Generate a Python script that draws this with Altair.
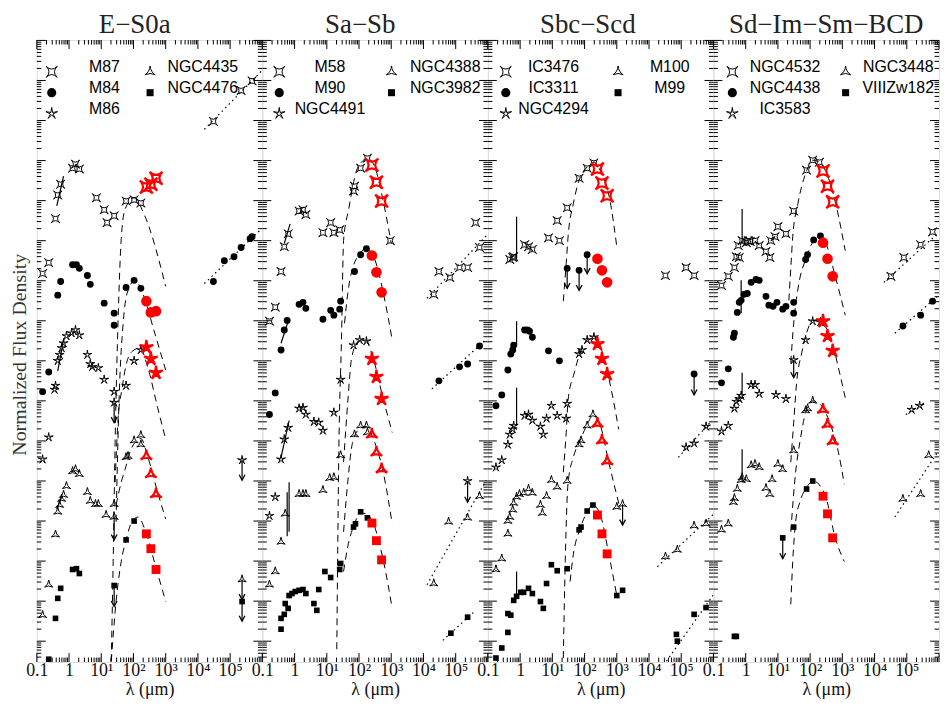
import math
import altair as alt
import pandas as pd

# ---------------------------------------------------------------------------
# Data: (log10 wavelength [um], log10 normalized flux)
# ---------------------------------------------------------------------------
SPIRE_LOGLAM = [2.40, 2.54, 2.70]

# ---- E-S0a ----
M87_sed = [(-0.82, 9.18), (-0.63, 9.45), (-0.42, 10.55), (-0.35, 11.14), (-0.26, 11.41), (0.11, 11.81),
           (0.20, 11.91), (0.32, 11.79), (0.85, 11.07), (1.09, 10.77), (1.18, 10.45), (1.40, 10.62),
           (1.77, 10.99), (2.02, 11.02), (2.23, 10.94), (4.48, 12.98), (5.34, 13.75), (5.68, 13.99)]
M87_spire = [11.34, 11.41, 11.56]
M87_fit = [(1.31, -0.50), (1.37, 1.99), (1.43, 4.96), (1.52, 7.94), (1.62, 10.05), (1.74, 10.79),
           (2.02, 11.07), (2.35, 10.62), (3.00, 8.86)]
M87_radio = [(4.20, 12.78), (5.98, 14.24)]
M87_spec = [(-0.38, 10.87, -0.17, 11.61)]

M84_sed = [(-0.82, 6.23), (-0.63, 6.72), (-0.35, 8.64), (-0.26, 8.98), (0.11, 9.40), (0.23, 9.40),
           (0.32, 9.31), (0.57, 9.13), (0.66, 8.91), (1.09, 8.44), (1.40, 8.19), (1.40, 7.89),
           (1.77, 8.83), (2.02, 9.01), (2.23, 8.81), (4.48, 8.98), (4.82, 9.50), (5.12, 9.60),
           (5.34, 9.83), (5.62, 10.05), (5.68, 10.10)]
M84_spire = [8.49, 8.21, 8.24]
M84_fit = [(1.46, 2.98), (1.55, 5.96), (1.68, 7.94), (1.80, 8.68), (2.05, 9.01), (2.29, 8.68),
           (2.66, 7.69), (3.00, 6.77)]
M84_radio = [(4.20, 8.93), (5.98, 10.30)]

M86_sed = [(-0.42, 6.38), (-0.45, 6.28), (-0.63, 5.09), (-0.82, 4.54), (-0.35, 7.00), (-0.29, 7.15),
           (-0.23, 7.32), (-0.17, 7.44), (-0.08, 7.62), (0.08, 7.69), (0.20, 7.77), (0.32, 7.64),
           (0.57, 7.15), (0.66, 6.92), (0.72, 6.85), (0.91, 6.82), (1.09, 6.53), (1.40, 6.23),
           (1.77, 6.38), (2.02, 7.00), (2.23, 7.27)]
M86_spire = [7.34, 7.05, 6.70]
M86_ul = [(1.40, 5.96, 5.46), (5.37, 4.52, 4.02)]
M86_fit = [(1.43, 3.97), (1.52, 5.53), (1.65, 6.33), (1.77, 6.90), (1.98, 7.25), (2.20, 7.32),
           (2.45, 6.82), (2.75, 5.83), (3.00, 5.04)]
M86_spec = [(-0.35, 6.75, -0.17, 7.52)]

NGC4435_sed = [(2.02, 5.01), (2.23, 5.14), (2.23, 4.91), (1.83, 4.62), (1.77, 4.59), (0.20, 4.29),
               (0.11, 4.24), (0.32, 4.17), (-0.08, 3.87), (-0.17, 3.65), (-0.23, 3.55), (-0.29, 3.40),
               (-0.35, 3.23), (-0.42, 2.66), (-0.63, 1.41), (-0.82, 0.65), (0.57, 3.72), (0.66, 3.50),
               (0.82, 3.42), (0.91, 3.42), (1.15, 3.15), (1.40, 3.42)]
NGC4435_spire = [4.62, 4.17, 3.67]
NGC4435_ul = [(1.40, 3.10, 2.53), (5.37, 1.54, 1.04)]
NGC4435_fit = [(1.46, 3.40), (1.62, 3.97), (1.74, 4.29), (1.92, 4.79), (2.23, 5.06), (2.45, 4.59),
               (2.75, 3.72), (3.00, 3.05)]
NGC4435_spec = [(-0.38, 3.30, -0.23, 3.60)]

NGC4476_sed = [(-0.63, -0.45), (-0.42, 0.57), (-0.35, 1.07), (-0.26, 1.32), (0.11, 1.79), (0.23, 1.81),
               (0.32, 1.69), (1.77, 2.53), (2.02, 3.00)]
NGC4476_spire = [2.68, 2.31, 1.79]
NGC4476_ul = [(1.40, 1.39, 0.87), (5.37, 0.99, 0.50)]
NGC4476_fit = [(1.31, -0.50), (1.46, 0.99), (1.62, 1.99), (1.77, 2.53), (1.95, 2.98), (2.14, 3.10),
               (2.38, 2.73), (2.69, 1.86), (3.00, 0.99)]

# ---- Sa-Sb ----
M58_sed = [(2.26, 12.06), (2.05, 11.81), (1.86, 11.36), (1.83, 11.24), (0.26, 10.77), (0.14, 10.74),
           (0.35, 10.65), (1.12, 10.45), (0.88, 10.20), (1.22, 10.20), (1.40, 10.27), (2.97, 10.00),
           (-0.20, 10.17), (-0.42, 9.23), (-0.60, 8.34), (-0.78, 7.99), (-0.32, 9.85), (5.62, 10.45),
           (4.48, 9.23), (4.32, 8.66), (4.82, 9.08), (5.12, 9.33), (5.37, 9.33), (5.74, 9.83)]
M58_spire = [11.89, 11.46, 10.99]
M58_fit = [(1.31, -0.20), (1.37, 4.54), (1.46, 7.69), (1.52, 10.00), (1.68, 10.79), (1.92, 11.74),
           (2.11, 11.99), (2.26, 12.06), (2.48, 11.86), (2.75, 10.99), (3.00, 9.93)]
M58_radio = [(4.11, 8.56), (5.95, 10.12)]
M58_spec = [(-0.32, 9.93, -0.14, 10.42)]

M90_sed = [(2.23, 9.80), (2.05, 9.65), (1.86, 9.23), (1.43, 8.49), (1.40, 8.29), (1.22, 8.14),
           (1.12, 8.26), (0.88, 8.04), (0.35, 8.31), (0.26, 8.46), (0.14, 8.41), (-0.23, 8.01),
           (-0.32, 7.77), (-0.42, 7.27), (-0.60, 6.20), (-0.78, 5.66), (4.48, 6.50), (5.12, 6.85),
           (5.37, 6.92), (5.74, 7.37)]
M90_spire = [9.63, 9.21, 8.71]
M90_fit = [(1.55, 7.94), (1.65, 8.68), (1.77, 9.23), (1.92, 9.55), (2.23, 9.80), (2.48, 9.55),
           (2.75, 8.71), (3.03, 7.52)]
M90_radio = [(4.26, 6.30), (5.95, 7.54)]
M90_spec = [(-0.42, 7.44, -0.17, 8.06)]

NGC4491_sed = [(2.23, 7.49), (2.02, 7.52), (1.83, 7.39), (1.43, 6.53), (1.22, 5.71), (0.88, 5.26),
               (0.75, 5.46), (0.60, 5.48), (0.35, 5.66), (0.26, 5.83), (0.14, 5.81), (-0.20, 5.33),
               (-0.32, 5.04), (-0.42, 4.54), (-0.60, 3.60), (-0.78, 3.13)]
NGC4491_spire = [7.05, 6.60, 6.05]
NGC4491_ul = [(5.37, 4.00, 3.47)]
NGC4491_fit = [(1.52, 4.47), (1.65, 5.96), (1.77, 7.07), (1.98, 7.49), (2.17, 7.54), (2.42, 7.12),
               (2.72, 6.15), (3.03, 5.21)]
NGC4491_spec = [(-0.42, 4.59, -0.17, 5.51)]

NGC4388_sed = [(2.23, 5.38), (2.05, 5.38), (1.86, 5.16), (2.26, 5.21), (1.43, 4.64), (1.22, 4.09),
               (1.09, 4.07), (0.88, 3.77), (0.35, 3.67), (0.26, 3.67), (0.14, 3.67), (-0.29, 3.18),
               (-0.42, 2.48), (-0.60, 1.74), (-0.78, 1.41), (4.78, 2.98), (5.37, 3.08), (5.74, 3.62),
               (4.32, 1.44)]
NGC4388_spire = [5.16, 4.71, 4.29]
NGC4388_fit = [(1.52, 2.73), (1.65, 3.97), (1.80, 4.96), (2.05, 5.33), (2.23, 5.36), (2.45, 5.04),
               (2.75, 4.22), (3.03, 2.93)]
NGC4388_radio = [(4.11, 1.41), (5.95, 4.02)]
NGC4388_spec = [(-0.17, 3.97, -0.17, 2.73), (-0.23, 3.72, -0.23, 2.62)]

NGC3982_sed = [(2.05, 3.23), (2.26, 3.08), (1.89, 2.93), (1.83, 2.85), (1.43, 1.94), (1.40, 1.79),
               (1.12, 1.59), (0.94, 1.74), (0.75, 1.29), (0.60, 0.94), (0.69, 0.77), (0.35, 1.19),
               (0.26, 1.29), (0.14, 1.27), (0.02, 1.24), (-0.08, 1.19), (-0.17, 1.14), (-0.20, 0.82),
               (-0.29, 0.94), (-0.32, 0.67), (-0.42, 0.57), (-0.42, 0.30), (4.85, 0.20), (5.37, 0.60)]
NGC3982_spire = [2.95, 2.51, 2.03]
NGC3982_fit = [(1.52, 1.74), (1.65, 2.36), (1.86, 2.93), (2.05, 3.20), (2.23, 3.18), (2.45, 2.93),
               (2.75, 2.03), (3.03, 0.82)]
NGC3982_radio = [(4.60, 0.02), (5.62, 0.77)]

# ---- Sbc-Scd ----
IC3476_sed = [(2.29, 11.94), (2.08, 11.81), (1.83, 11.56), (1.46, 10.82), (1.15, 10.50), (0.88, 10.07),
              (1.22, 10.00), (0.14, 9.90), (0.26, 9.85), (0.38, 9.78), (-0.20, 9.60), (-0.32, 9.53),
              (-0.23, 9.58), (4.51, 9.13), (5.15, 9.33), (5.40, 9.13)]
IC3476_spire = [11.79, 11.44, 11.12]
IC3476_fit = [(1.34, 8.49), (1.43, 9.43), (1.49, 10.12), (1.65, 10.92), (1.83, 11.51), (2.08, 11.84),
              (2.29, 11.96), (2.51, 11.71), (2.78, 11.04), (3.00, 9.85)]
IC3476_spec = [(-0.11, 10.60, -0.11, 9.55)]

IC3311_sed = [(0.23, 7.77), (0.14, 7.77), (0.29, 7.74), (0.38, 7.59), (0.88, 7.25), (1.22, 7.00),
              (-0.20, 7.39), (-0.23, 7.27), (-0.29, 7.17), (-0.38, 6.77), (-0.57, 6.15), (-0.75, 5.88)]
IC3311_spire = [9.55, 9.26, 8.96]
IC3311_ul = [(2.08, 9.65, 9.18), (1.83, 9.26, 8.76), (1.46, 9.31, 8.81), (5.40, 6.67, 6.15)]
IC3311_spec = [(-0.11, 7.99, -0.11, 7.37)]

NGC4294_sed = [(2.29, 7.59), (2.08, 7.52), (1.92, 7.27), (1.83, 7.17), (1.46, 5.93), (1.43, 5.56),
               (1.15, 5.63), (0.97, 5.88), (0.82, 5.56), (0.63, 5.36), (0.72, 5.16), (0.38, 5.51),
               (0.26, 5.66), (0.14, 5.63), (-0.20, 5.38), (-0.23, 5.29), (-0.32, 5.16), (-0.38, 4.91),
               (-0.57, 4.52), (-0.75, 4.34), (5.15, 4.84), (5.40, 4.94), (5.77, 5.36)]
NGC4294_spire = [7.42, 7.05, 6.67]
NGC4294_fit = [(1.34, 4.22), (1.43, 5.21), (1.49, 6.03), (1.68, 6.70), (1.86, 7.20), (2.08, 7.52),
               (2.29, 7.62), (2.51, 7.32), (2.75, 6.58), (3.06, 5.29)]
NGC4294_radio = [(4.91, 4.59), (5.95, 5.51)]
NGC4294_spec = [(-0.11, 6.33, -0.11, 5.38)]

M100_sed = [(2.26, 5.66), (2.08, 5.38), (1.89, 5.01), (1.83, 4.91), (1.46, 4.00), (1.15, 3.85),
            (0.97, 4.02), (0.82, 3.62), (0.69, 3.20), (0.63, 3.40), (0.38, 3.70), (0.26, 3.80),
            (0.11, 3.70), (-0.02, 3.67), (-0.11, 3.60), (-0.20, 3.45), (-0.23, 3.28), (-0.32, 3.10),
            (-0.38, 3.00), (-0.38, 2.68), (-0.57, 2.06), (-0.75, 1.79), (3.00, 3.35), (4.51, 2.11),
            (4.88, 2.28), (5.40, 2.88), (5.77, 2.93)]
M100_spire = [5.43, 5.01, 4.49]
M100_ul = [(3.18, 3.42, 2.90)]
M100_fit = [(1.34, -0.42), (1.40, 1.99), (1.49, 3.97), (1.65, 4.59), (1.86, 5.01), (2.08, 5.41),
            (2.26, 5.63), (2.51, 5.33), (2.75, 4.47), (3.09, 3.35)]
M100_radio = [(4.26, 1.86), (6.00, 3.17)]

M99_sed = [(2.26, 3.40), (2.08, 3.25), (1.89, 2.85), (1.83, 2.78), (3.00, 1.14), (3.18, 1.27),
           (1.46, 1.81), (1.15, 1.76), (0.97, 1.91), (0.82, 1.44), (0.63, 0.99), (0.72, 0.82),
           (0.38, 1.19), (0.26, 1.32), (0.11, 1.22), (0.02, 1.22), (-0.11, 1.12), (-0.20, 1.02),
           (-0.29, 0.65), (-0.38, 0.69), (-0.38, 0.22), (-0.57, -0.17), (-0.75, -0.42), (4.85, 0.17),
           (4.88, 0.00), (5.40, 0.67), (5.77, 0.84)]
M99_spire = [3.15, 2.68, 2.18]
M99_fit = [(1.55, 1.49), (1.65, 2.16), (1.86, 2.80), (2.08, 3.23), (2.26, 3.40), (2.51, 3.10),
           (2.75, 2.18), (3.00, 1.14)]
M99_radio = [(4.54, -0.50), (6.00, 1.16)]
M99_spec = [(-0.11, 1.74, -0.11, 1.17)]

# ---- Sd-Im-Sm-BCD ----
NGC4532_sed = [(2.08, 12.01), (2.29, 11.96), (1.89, 11.76), (1.49, 10.74), (1.00, 10.35), (0.91, 10.10),
               (1.25, 10.17), (0.78, 10.00), (0.29, 10.00), (0.08, 10.00), (-0.11, 10.00), (0.42, 9.88),
               (0.14, 9.98), (0.02, 9.95), (-0.23, 9.88), (-0.20, 9.58), (-0.29, 9.60), (-0.35, 9.33),
               (-0.54, 9.11), (-0.75, 8.88), (0.63, 9.73), (0.75, 9.58), (4.51, 9.11), (4.91, 9.58),
               (5.43, 9.90), (5.80, 10.22)]
NGC4532_spire = [11.74, 11.36, 10.97]
NGC4532_fit = [(1.34, 8.51), (1.40, 9.31), (1.46, 10.10), (1.62, 10.92), (1.89, 11.74), (2.08, 12.01),
               (2.29, 11.96), (2.48, 11.74), (2.78, 10.97), (3.09, 9.75)]
NGC4532_radio = [(4.29, 8.96), (5.95, 10.17)]
NGC4532_spec = [(-0.11, 10.79, -0.11, 9.93)]

NGC4438_sed = [(2.32, 10.12), (2.11, 10.02), (1.92, 9.65), (1.86, 9.53), (1.49, 8.46), (1.49, 8.19),
               (1.25, 8.36), (1.15, 8.29), (0.97, 8.46), (0.85, 8.36), (0.72, 8.39), (0.63, 8.61),
               (0.42, 9.01), (0.32, 9.03), (0.17, 8.96), (0.05, 8.68), (-0.05, 8.66), (-0.14, 8.51),
               (-0.20, 8.46), (-0.26, 8.21), (-0.35, 7.69), (-0.38, 7.59), (-0.54, 6.80), (-0.75, 6.45),
               (4.88, 7.87), (5.43, 8.14), (5.80, 8.49)]
NGC4438_spire = [9.95, 9.55, 9.11]
NGC4438_fit = [(1.40, 6.95), (1.49, 7.94), (1.65, 8.93), (1.86, 9.53), (2.11, 10.00), (2.32, 10.12),
               (2.48, 9.95), (2.78, 9.11), (3.09, 8.14)]
NGC4438_radio = [(4.63, 7.69), (5.95, 8.61)]
NGC4438_spec = [(-0.14, 9.01, -0.14, 8.19)]

IC3583_sed = [(2.08, 7.99), (2.32, 7.97), (1.86, 7.52), (1.25, 6.05), (0.94, 6.15), (0.42, 6.18),
              (0.29, 6.40), (0.17, 6.40), (-0.14, 6.13), (-0.20, 6.05), (-0.29, 5.98), (-0.35, 5.81),
              (-0.54, 5.38), (-0.75, 5.24), (5.15, 5.78), (5.40, 5.88)]
IC3583_spire = [7.99, 7.62, 7.25]
IC3583_ul = [(1.49, 7.02, 6.58)]
IC3583_fit = [(1.40, 4.47), (1.49, 5.46), (1.58, 6.45), (1.74, 7.20), (1.89, 7.69), (2.08, 8.01),
              (2.32, 7.94), (2.63, 7.62), (2.88, 6.82), (3.09, 6.08)]
IC3583_radio = [(4.97, 5.66), (5.55, 5.96)]
IC3583_spec = [(-0.11, 6.70, -0.11, 6.13)]

NGC3448_sed = [(2.08, 6.00), (1.92, 5.81), (1.86, 5.76), (1.49, 4.76), (1.15, 4.29), (1.00, 4.42),
               (0.42, 4.34), (0.29, 4.42), (0.17, 4.39), (0.82, 4.04), (0.63, 3.82), (0.75, 3.67),
               (0.02, 4.04), (-0.11, 4.09), (-0.14, 4.02), (-0.26, 3.80), (-0.35, 3.57), (-0.38, 3.47),
               (-0.54, 2.93), (-0.75, 2.78), (4.88, 3.55), (5.43, 3.67), (5.68, 4.64)]
NGC3448_spire = [5.78, 5.41, 4.99]
NGC3448_fit = [(1.40, 2.73), (1.55, 4.22), (1.68, 4.96), (1.86, 5.71), (2.08, 6.00), (2.32, 5.91),
               (2.63, 5.41), (2.88, 4.71), (3.06, 3.92)]
NGC3448_radio = [(4.63, 3.10), (5.95, 4.71)]
NGC3448_spec = [(-0.11, 4.79, -0.11, 3.97)]

VIIIZw182_sed = [(2.08, 4.00), (1.89, 3.80), (1.49, 2.85), (-0.35, 0.12), (-0.29, 0.12)]
VIIIZw182_spire = [3.62, 3.18, 2.58]
VIIIZw182_ul = [(1.15, 2.58, 2.06)]
VIIIZw182_fit = [(1.40, 0.92), (1.46, 1.99), (1.55, 2.98), (1.68, 3.47), (1.86, 3.80), (2.11, 4.00),
                 (2.29, 3.90), (2.48, 3.62), (2.78, 2.58), (3.06, 1.99)]

PANEL_TITLES = ["E\u2212S0a", "Sa\u2212Sb", "Sbc\u2212Scd", "Sd\u2212Im\u2212Sm\u2212BCD"]
PANEL_GALAXIES = [
    ["M87", "M84", "M86", "NGC4435", "NGC4476"],
    ["M58", "M90", "NGC4491", "NGC4388", "NGC3982"],
    ["IC3476", "IC3311", "NGC4294", "M100", "M99"],
    ["NGC4532", "NGC4438", "IC3583", "NGC3448", "VIIIZw182"],
]
X_TITLE = "\u03bb (\u03bcm)"
Y_TITLE = "Normalized Flux Density"

# ---------------------------------------------------------------------------
# Styling / layout
# ---------------------------------------------------------------------------
W, H = 227, 626
XDOM = [-1.0, 6.0]
YDOM = [-0.52, 15.01]
SERIF = "Liberation Serif"
SANS = "Liberation Sans"

SYM_KEYS = ["s4", "c", "s5", "t", "q"]
SYM_PATHS = [
    "M-1,-1Q0,0 1,-1Q0,0 1,1Q0,0 -1,1Q0,0 -1,-1Z",
    "circle",
    "M0,-1L0.13,-0.18L0.95,-0.31L0.21,0.07L0.59,0.81L0,0.22L-0.59,0.81L-0.21,0.07L-0.95,-0.31L-0.13,-0.18Z",
    "M0,-1Q0.08,0 0.87,0.5Q0,0.05 -0.87,0.5Q-0.08,0 0,-1Z",
    "square",
]
OPEN = {"s4", "s5", "t"}
SIZE_BLACK = {"s4": 70, "c": 48, "s5": 90, "t": 90, "q": 32}
SIZE_RED = {"s4": 170, "c": 115, "s5": 210, "t": 180, "q": 80}
SIZE_LEG = {"s4": 120, "c": 85, "s5": 150, "t": 140, "q": 50}
ARROW = "M-0.7,-1.3L0,0L0.7,-1.3"

TITLE_DX = [-15, -15, -13, 0]
LEG_LAYOUT = [(15, 68, 114, 167), (17, 68, 130, 184), (18, 66, 131, 183), (19, 72, 133, 186)]
LEG_ROWS = [32, 53, 74]
XTITLE_POS = 2.5  # centre of the panel, where the axis title sits

XMAJ = list(range(-1, 7))
XMIN = [n + math.log10(k) for n in range(-1, 6) for k in range(2, 10)]
YMAJ = [v for v in range(0, 16) if YDOM[0] < v < YDOM[1]]
YMIN = [n + math.log10(k) for n in range(-1, 15) for k in range(2, 10)
        if YDOM[0] < n + math.log10(k) < YDOM[1]]

xs = alt.Scale(domain=XDOM, nice=False, zero=False)
ys = alt.Scale(domain=YDOM, nice=False, zero=False)
shape_scale = alt.Scale(domain=SYM_KEYS, range=SYM_PATHS)

# tick labels; the axis title is written as a second line under the panel centre
LABEL_EXPR = ("datum.value == -1 ? '0.1' : datum.value == 0 ? '1' : "
              "datum.value == 1 ? '10\u00b9' : datum.value == 2 ? '10\u00b2' : "
              f"datum.value == {XTITLE_POS} ? ['', '{X_TITLE}'] : "
              "datum.value == 3 ? '10\u00b3' : datum.value == 4 ? '10\u2074' : '10\u2075'")


def G(name, key):
    return globals().get(f"{name}_{key}", [])


def off2lx(off):
    return XDOM[0] + off * (XDOM[1] - XDOM[0]) / W


def rel2ly(r):
    return YDOM[1] - r * (YDOM[1] - YDOM[0]) / H


def make_panel(p):
    names = PANEL_GALAXIES[p]
    xaxis = alt.Axis(values=[-1, 0, 1, 2, XTITLE_POS, 3, 4, 5], labelExpr=LABEL_EXPR, ticks=False,
                     tickSize=0, domain=False, grid=False, labelFont=SERIF, labelFontSize=18,
                     labelLineHeight=19, labelColor="#111", labelPadding=0, labelFlush=False,
                     labelOverlap=False, labelBound=False, title=None)

    def X(f):
        return alt.X(f, scale=xs, axis=xaxis)

    def Y(f):
        return alt.Y(f, scale=ys, axis=None)

    sed, red, fit, radio, ul, spec, leg = [], [], [], [], [], [], []
    c1s, c1t, c2s, c2t = LEG_LAYOUT[p]
    for i, name in enumerate(names):
        sym = SYM_KEYS[i]
        for lx, ly in G(name, "sed"):
            sed.append(dict(gal=name, sym=sym, lx=lx, ly=ly, sz=SIZE_BLACK[sym]))
        for lx, ly in zip(SPIRE_LOGLAM, G(name, "spire")):
            red.append(dict(gal=name, sym=sym, lx=lx, ly=ly, sz=SIZE_RED[sym]))
        for k, (lx, ly) in enumerate(G(name, "fit")):
            fit.append(dict(gal=name, k=k, lx=lx, ly=ly))
        for k, (lx, ly) in enumerate(G(name, "radio")):
            radio.append(dict(gal=name, k=k, lx=lx, ly=ly))
        for lx, ytop, ybot in G(name, "ul"):
            ul.append(dict(gal=name, sym=sym, lx=lx, ly=ytop, ly2=ybot, sz=SIZE_BLACK[sym]))
        for x1, y1, x2, y2 in G(name, "spec"):
            spec.append(dict(gal=name, lx=x1, ly=y1, lx2=x2, ly2=y2))
        col = 0 if i < 3 else 1
        row = i if i < 3 else i - 3
        so, to = (c1s, c1t) if col == 0 else (c2s, c2t)
        leg.append(dict(gal=name, sym=sym, sz=SIZE_LEG[sym], lx=off2lx(so), tx=off2lx(to),
                        ly=rel2ly(LEG_ROWS[row])))

    sed = pd.DataFrame(sed, columns=["gal", "sym", "lx", "ly", "sz"])
    red = pd.DataFrame(red, columns=["gal", "sym", "lx", "ly", "sz"])
    fit = pd.DataFrame(fit, columns=["gal", "k", "lx", "ly"])
    radio = pd.DataFrame(radio, columns=["gal", "k", "lx", "ly"])
    ul = pd.DataFrame(ul, columns=["gal", "sym", "lx", "ly", "ly2", "sz"])
    spec = pd.DataFrame(spec, columns=["gal", "lx", "ly", "lx2", "ly2"])
    leg = pd.DataFrame(leg, columns=["gal", "sym", "sz", "lx", "tx", "ly"])

    layers = []
    # inward ticks on all four sides
    txmaj = pd.DataFrame({"v": XMAJ})
    txmin = pd.DataFrame({"v": XMIN})
    tymaj = pd.DataFrame({"v": YMAJ})
    tymin = pd.DataFrame({"v": YMIN})
    for df, ln in ((txmaj, 9), (txmin, 4.5)):
        layers.append(alt.Chart(df).mark_rule(color="black", strokeWidth=1).encode(
            x=X("v:Q"), y=alt.value(H), y2=alt.value(H - ln)))
        layers.append(alt.Chart(df).mark_rule(color="black", strokeWidth=1).encode(
            x=X("v:Q"), y=alt.value(0), y2=alt.value(ln)))
    for df, ln in ((tymaj, 9), (tymin, 4.5)):
        layers.append(alt.Chart(df).mark_rule(color="black", strokeWidth=1).encode(
            y=Y("v:Q"), x=alt.value(0), x2=alt.value(ln)))
        layers.append(alt.Chart(df).mark_rule(color="black", strokeWidth=1).encode(
            y=Y("v:Q"), x=alt.value(W - ln), x2=alt.value(W)))

    # dashed dust fits
    layers.append(alt.Chart(fit).mark_line(color="black", strokeWidth=1, strokeDash=[7, 5],
                                           interpolate="monotone", clip=True).encode(
        x=X("lx:Q"), y=Y("ly:Q"), detail="gal:N", order="k:Q"))
    # dotted radio fits
    layers.append(alt.Chart(radio).mark_line(color="black", strokeWidth=1.2, strokeDash=[1.5, 3.5],
                                             clip=True).encode(
        x=X("lx:Q"), y=Y("ly:Q"), detail="gal:N", order="k:Q"))
    # spectra / spikes
    layers.append(alt.Chart(spec).mark_rule(color="black", strokeWidth=1.2).encode(
        x=X("lx:Q"), y=Y("ly:Q"), x2="lx2:Q", y2="ly2:Q"))
    # upper limits
    layers.append(alt.Chart(ul).mark_rule(color="black", strokeWidth=1.2).encode(
        x=X("lx:Q"), y=Y("ly:Q"), y2="ly2:Q"))
    layers.append(alt.Chart(ul).mark_point(shape=ARROW, size=70, filled=False, color="black",
                                           strokeWidth=1.3, opacity=1).encode(
        x=X("lx:Q"), y=Y("ly2:Q")))

    def split(df):
        m = df["sym"].isin(OPEN)
        return df[m], df[~m]

    ul_open, ul_fill = split(ul)
    sed_open, sed_fill = split(sed)
    red_open, red_fill = split(red)
    leg_open, leg_fill = split(leg)

    def pts(df, filled, color, sw):
        return alt.Chart(df).mark_point(filled=filled, color=color, strokeWidth=sw, opacity=1).encode(
            x=X("lx:Q"), y=Y("ly:Q"), shape=alt.Shape("sym:N", scale=shape_scale, legend=None),
            size=alt.Size("sz:Q", scale=None, legend=None))

    layers.append(pts(ul_open, False, "black", 1))
    layers.append(pts(ul_fill, True, "black", 0))
    layers.append(pts(sed_open, False, "black", 1))
    layers.append(pts(sed_fill, True, "black", 0))
    layers.append(pts(red_open, False, "#ff0000", 2.2))
    layers.append(pts(red_fill, True, "#ff0000", 0))
    layers.append(pts(leg_open, False, "black", 1))
    layers.append(pts(leg_fill, True, "black", 0))
    layers.append(alt.Chart(leg).mark_text(font=SANS, fontSize=16, color="black",
                                           align="center", baseline="middle", dy=-5).encode(
        x=X("tx:Q"), y=Y("ly:Q"), text="gal:N"))

    return alt.layer(*layers).properties(
        width=W, height=H,
        title=alt.TitleParams(PANEL_TITLES[p], font=SERIF, fontSize=27,
                              fontWeight="normal", color="#222", dx=TITLE_DX[p], offset=1,
                              anchor="middle"))


chart = alt.hconcat(*[make_panel(p) for p in range(4)], spacing=0, bounds="flush").properties(
    padding={"left": 2, "top": 0, "right": 0, "bottom": 0},
    title=alt.TitleParams(Y_TITLE, orient="left", anchor="middle", font=SERIF, fontSize=20,
                          fontWeight="normal", color="#333", offset=-5),
).configure_view(stroke="#111", strokeWidth=1.2).configure_axis(
    labelFont=SERIF
).configure_title(font=SERIF, fontWeight="normal").configure(background="white")

chart.save("out.html", embed_options={"renderer": "svg", "actions": False})
